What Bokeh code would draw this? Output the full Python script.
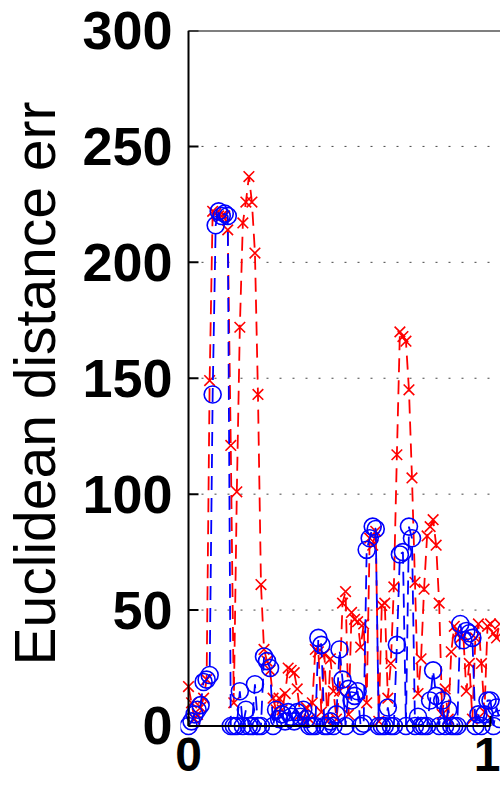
import math
from bokeh.plotting import figure
from bokeh.models import Range1d, FixedTicker
from bokeh.embed import file_html
from bokeh.resources import INLINE

# sample positions (normalised)
x_vals = [round(i * 0.01, 2) for i in range(104)]

# blue circles series
blue_err = [0, 2, 5, 7, 9, 19, 20, 22, 143, 216, 222, 220, 221, 220, 0, 0, 0, 15, 0, 7,
            0, 0, 18, 0, 0, 30, 28, 25, 0, 7, 3, 5, 2, 6, 4, 2, 6, 4, 7, 3,
            0, 0, 0, 38, 35, 0, 0, 2, 0, 5, 33, 20, 0, 16, 11, 13, 15, 0, 1, 76,
            81, 86, 85, 0, 0, 0, 8, 0, 0, 35, 74, 75, 0, 86, 81, 0, 4, 0, 0, 0,
            11, 24, 13, 0, 11, 0, 7, 0, 0, 0, 44, 37, 41, 40, 38, 0, 5, 0, 5, 11,
            11, 0, 8, 3]

# red crosses series
red_err = [17, 10, 3, 5, 8, 12, 20, 149, 222, 221, 220, 220, 220, 214, 121, 10, 101, 172, 217, 226,
           237, 226, 204, 143, 61, 33, 28, 24, 12, 7, 12, 7, 14, 25, 24, 23, 16, 5, 2, 8,
           3, 10, 33, 32, 6, 31, 2, 29, 15, 3, 15, 53, 58, 5, 49, 46, 45, 34, 44, 10,
           81, 78, 84, 2, 52, 53, 12, 27, 60, 117, 170, 168, 166, 145, 107, 62, 14, 29, 59, 82,
           86, 89, 78, 53, 5, 16, 3, 32, 43, 40, 38, 39, 15, 27, 3, 38, 44, 27, 6, 43,
           44, 40, 38, 44]

y_ticks = [0, 50, 100, 150, 200, 250, 300]
x_ticks = [0, 1]
y_label = "Euclidean distance err"

X_END = 1.0331
p = figure(width=500, height=786, output_backend="svg", toolbar_location=None,
           x_range=Range1d(-0.0265, X_END), y_range=Range1d(-4.53, 300),
           min_border_left=180, min_border_right=0, min_border_top=30, min_border_bottom=50)
p.outline_line_color = None
p.background_fill_color = "white"
p.border_fill_color = "white"
p.xgrid.visible = False
p.ygrid.visible = False

# dotted horizontal grid lines starting at the y axis
grid_y = y_ticks[1:-1]
p.ray(x=[x_ticks[0]] * len(grid_y), y=grid_y, length=0, angle=0,
      line_color="#444444", line_dash="2 11", line_width=1)

# data
p.line(x_vals, red_err, line_color="red", line_dash="14 8", line_width=1.8)
p.scatter(x_vals, red_err, marker="x", size=15, line_color="red", line_width=1.6)
p.line(x_vals, blue_err, line_color="blue", line_dash="14 8", line_width=1.8)
p.scatter(x_vals, blue_err, marker="circle", size=17, fill_color=None,
          line_color="blue", line_width=1.6)

# box lines: left (x=0), bottom (y=0 from 0 to 1), top (y=300)
p.segment(x0=[x_ticks[0], x_ticks[0], x_ticks[0]],
          y0=[y_ticks[0], y_ticks[0], y_ticks[-1]],
          x1=[x_ticks[0], x_ticks[-1], X_END + 0.05],
          y1=[y_ticks[-1], y_ticks[0], y_ticks[-1]],
          line_color="black", line_width=2)
# inward ticks
p.ray(x=[x_ticks[0]] * len(y_ticks), y=y_ticks, length=10, length_units="screen",
      angle=0, line_color="black", line_width=2)
p.ray(x=x_ticks, y=[y_ticks[0]] * len(x_ticks), length=10, length_units="screen",
      angle=math.pi / 2, line_color="black", line_width=2)

for ax in (p.xaxis[0], p.yaxis[0]):
    ax.axis_line_color = None
    ax.major_tick_line_color = None
    ax.minor_tick_line_color = None
    ax.major_label_text_font = "Liberation Sans"
    ax.major_label_text_font_style = "bold"
    ax.major_label_text_font_size = "54px"
    ax.major_label_text_color = "black"

p.xaxis[0].ticker = FixedTicker(ticks=x_ticks)
p.xaxis[0].major_label_standoff = -5
p.xaxis[0].major_label_text_font_size = "48px"
p.yaxis[0].ticker = FixedTicker(ticks=y_ticks)
p.yaxis[0].major_label_standoff = 2
p.yaxis[0].axis_label = y_label
p.yaxis[0].axis_label_text_font = "Liberation Sans"
p.yaxis[0].axis_label_text_font_style = "normal"
p.yaxis[0].axis_label_text_font_size = "57px"
p.yaxis[0].axis_label_standoff = 12
p.yaxis[0].axis_label_text_color = "black"

open("out.html", "w").write(file_html(p, INLINE))
